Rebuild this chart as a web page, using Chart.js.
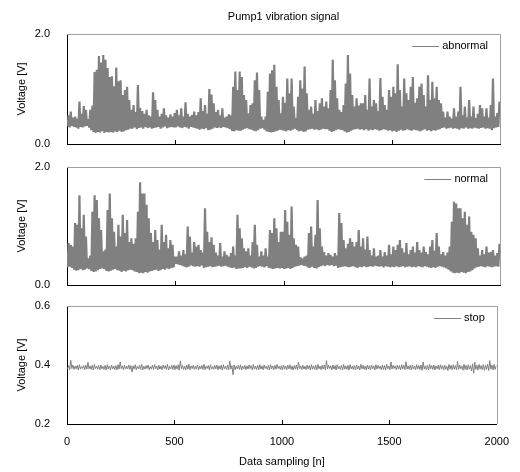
<!DOCTYPE html>
<html>
<head>
<meta charset="utf-8">
<script src="https://cdn.jsdelivr.net/npm/chart.js@4.4.1/dist/chart.umd.min.js"></script>
<style>
  html, body { margin: 0; padding: 0; background: #fff; }
  #wrap { position: relative; width: 520px; height: 472px; }
  #wrap canvas { position: absolute; left: 0; }
</style>
</head>
<body>
<div id="wrap">
  <canvas id="c1" width="520" height="160" style="top:0"></canvas>
  <canvas id="c2" width="520" height="150" style="top:150px"></canvas>
  <canvas id="c3" width="520" height="182" style="top:290px"></canvas>
</div>
<script>
// x axis: sample index 0..2000, y: voltage
const xTicks = [0, 500, 1000, 1500, 2000];

// peak / trough of each 10-sample bin
const abnormalHigh = [
  0.52, 0.59, 0.48, 0.50, 0.46, 0.77, 0.55, 0.69, 0.62, 0.45,
  0.62, 0.70, 1.31, 1.35, 1.60, 1.48, 1.62, 1.53, 1.38, 1.22,
  1.23, 1.05, 1.39, 1.14, 1.16, 0.89, 0.98, 1.04, 0.80, 0.62,
  0.71, 0.58, 1.07, 0.66, 0.60, 0.55, 0.62, 0.52, 0.50, 0.94,
  0.80, 0.62, 0.50, 0.55, 0.65, 0.52, 0.48, 0.54, 0.50, 0.56,
  0.62, 0.52, 0.65, 0.50, 0.76, 0.55, 0.50, 0.53, 0.59, 0.52,
  0.58, 0.83, 0.60, 0.71, 0.55, 1.00, 0.90, 0.74, 0.58, 0.62,
  0.52, 0.65, 0.48, 0.50, 0.54, 0.52, 1.04, 1.32, 0.98, 1.32,
  1.22, 0.89, 0.80, 0.56, 0.71, 0.74, 1.16, 1.30, 0.98, 0.50,
  0.44, 0.50, 0.95, 1.28, 1.34, 1.44, 1.04, 0.80, 0.56, 0.86,
  0.75, 1.19, 0.92, 1.19, 0.68, 0.47, 0.86, 1.16, 1.01, 1.41,
  0.92, 0.62, 0.68, 0.55, 0.80, 0.60, 0.74, 0.83, 0.68, 0.77,
  0.65, 0.98, 1.53, 1.16, 0.83, 0.62, 0.58, 0.71, 1.10, 1.62,
  1.28, 0.89, 0.68, 0.83, 0.70, 0.74, 0.74, 0.89, 0.62, 1.19,
  0.68, 0.80, 0.74, 0.60, 1.20, 0.86, 0.71, 0.62, 0.98, 0.86,
  1.04, 0.92, 1.45, 0.98, 0.68, 1.19, 0.92, 0.80, 1.04, 1.22,
  0.75, 0.83, 1.04, 1.10, 0.89, 0.68, 1.25, 0.80, 1.13, 0.83,
  1.04, 0.80, 0.74, 0.59, 0.48, 0.59, 0.50, 0.46, 0.65, 0.50,
  0.59, 1.04, 0.52, 0.68, 0.48, 0.80, 0.50, 0.68, 0.47, 0.55,
  0.71, 0.65, 0.50, 0.65, 0.48, 0.71, 1.19, 0.50, 0.56, 0.77
];
const abnormalLow = [
  0.32, 0.30, 0.33, 0.31, 0.30, 0.28, 0.31, 0.30, 0.32, 0.33,
  0.30, 0.25, 0.22, 0.20, 0.22, 0.21, 0.23, 0.20, 0.22, 0.21,
  0.22, 0.21, 0.23, 0.22, 0.24, 0.22, 0.23, 0.25, 0.26, 0.28,
  0.28, 0.30, 0.27, 0.29, 0.30, 0.28, 0.31, 0.29, 0.30, 0.28,
  0.29, 0.30, 0.31, 0.28, 0.30, 0.32, 0.29, 0.30, 0.31, 0.30,
  0.30, 0.32, 0.30, 0.29, 0.31, 0.30, 0.28, 0.31, 0.30, 0.29,
  0.28, 0.26, 0.28, 0.27, 0.29, 0.25, 0.26, 0.28, 0.30, 0.29,
  0.30, 0.29, 0.31, 0.30, 0.29, 0.27, 0.24, 0.23, 0.25, 0.24,
  0.24, 0.26, 0.28, 0.29, 0.27, 0.26, 0.24, 0.23, 0.25, 0.28,
  0.29, 0.26, 0.23, 0.22, 0.21, 0.22, 0.23, 0.24, 0.26, 0.25,
  0.24, 0.23, 0.25, 0.24, 0.26, 0.28, 0.25, 0.23, 0.24, 0.22,
  0.23, 0.26, 0.27, 0.28, 0.26, 0.27, 0.25, 0.26, 0.28, 0.27,
  0.27, 0.24, 0.22, 0.23, 0.25, 0.27, 0.26, 0.25, 0.23, 0.21,
  0.22, 0.24, 0.26, 0.27, 0.28, 0.26, 0.27, 0.25, 0.27, 0.24,
  0.26, 0.25, 0.27, 0.26, 0.24, 0.25, 0.27, 0.26, 0.24, 0.25,
  0.23, 0.24, 0.22, 0.24, 0.26, 0.24, 0.25, 0.27, 0.25, 0.24,
  0.26, 0.25, 0.24, 0.23, 0.25, 0.27, 0.24, 0.25, 0.23, 0.25,
  0.24, 0.26, 0.27, 0.29, 0.30, 0.28, 0.29, 0.30, 0.28, 0.29,
  0.28, 0.26, 0.29, 0.28, 0.30, 0.28, 0.29, 0.28, 0.30, 0.29,
  0.28, 0.29, 0.30, 0.28, 0.29, 0.28, 0.25, 0.29, 0.30, 0.31
];

const normalHigh = [
  0.71, 0.68, 0.65, 1.05, 1.02, 1.52, 0.96, 1.19, 0.82, 0.45,
  0.50, 1.24, 1.52, 1.44, 1.13, 0.93, 0.57, 0.60, 1.27, 1.55,
  1.13, 0.90, 0.65, 1.02, 0.82, 1.19, 0.88, 1.10, 0.73, 0.79,
  0.70, 0.79, 1.24, 1.74, 1.55, 1.55, 1.36, 1.13, 0.88, 0.73,
  0.93, 0.76, 0.60, 1.02, 0.73, 0.85, 0.62, 0.76, 0.68, 0.48,
  0.48, 0.57, 0.50, 0.59, 0.52, 0.99, 0.82, 0.55, 0.73, 0.65,
  0.68, 0.59, 0.55, 1.30, 0.90, 0.73, 0.81, 0.68, 0.55, 0.50,
  0.71, 0.48, 0.57, 0.51, 0.48, 0.54, 0.65, 0.50, 1.19, 0.96,
  0.79, 0.62, 0.57, 0.62, 0.50, 0.73, 1.02, 0.68, 0.48, 0.57,
  0.50, 0.62, 0.48, 0.93, 0.88, 1.13, 0.96, 0.73, 0.90, 0.90,
  1.27, 1.07, 0.85, 1.33, 0.79, 0.68, 0.65, 0.47, 0.45, 0.48,
  0.50, 0.88, 0.99, 0.65, 0.85, 1.44, 0.96, 0.65, 0.56, 0.50,
  0.54, 0.51, 0.48, 0.54, 0.50, 1.22, 1.05, 0.76, 0.62, 0.70,
  0.79, 0.73, 0.65, 0.73, 0.93, 0.65, 0.79, 0.60, 0.82, 0.59,
  0.50, 0.62, 0.48, 0.50, 0.59, 0.48, 0.56, 0.50, 0.68, 0.52,
  0.65, 0.59, 0.68, 0.76, 0.62, 0.55, 0.71, 0.52, 0.59, 0.65,
  0.55, 0.73, 0.59, 0.55, 0.65, 0.56, 0.52, 0.65, 0.76, 0.58,
  0.88, 0.65, 0.52, 0.56, 0.50, 0.55, 0.65, 1.07, 1.41, 1.38,
  1.30, 1.30, 1.13, 1.24, 1.02, 1.16, 0.90, 0.85, 0.79, 0.62,
  0.50, 0.59, 0.52, 0.65, 0.55, 0.56, 0.59, 0.50, 0.54, 0.70
];
const normalLow = [
  0.30, 0.31, 0.29, 0.26, 0.24, 0.25, 0.27, 0.25, 0.26, 0.28,
  0.27, 0.24, 0.22, 0.23, 0.25, 0.27, 0.28, 0.27, 0.24, 0.23,
  0.24, 0.26, 0.27, 0.25, 0.24, 0.22, 0.24, 0.23, 0.25, 0.26,
  0.25, 0.23, 0.22, 0.20, 0.21, 0.20, 0.22, 0.21, 0.23, 0.24,
  0.25, 0.26, 0.24, 0.25, 0.27, 0.26, 0.28, 0.27, 0.29, 0.30,
  0.36, 0.35, 0.34, 0.33, 0.31, 0.30, 0.31, 0.33, 0.32, 0.31,
  0.32, 0.31, 0.33, 0.29, 0.30, 0.31, 0.32, 0.30, 0.31, 0.32,
  0.33, 0.31, 0.32, 0.33, 0.31, 0.30, 0.29, 0.30, 0.27, 0.28,
  0.28, 0.29, 0.30, 0.29, 0.31, 0.30, 0.28, 0.29, 0.31, 0.32,
  0.31, 0.30, 0.32, 0.29, 0.28, 0.27, 0.28, 0.29, 0.28, 0.29,
  0.27, 0.28, 0.29, 0.27, 0.29, 0.31, 0.32, 0.33, 0.34, 0.33,
  0.32, 0.30, 0.29, 0.31, 0.29, 0.28, 0.30, 0.32, 0.33, 0.32,
  0.34, 0.33, 0.34, 0.32, 0.33, 0.29, 0.30, 0.31, 0.32, 0.31,
  0.30, 0.31, 0.32, 0.30, 0.29, 0.31, 0.30, 0.32, 0.30, 0.31,
  0.32, 0.31, 0.33, 0.32, 0.31, 0.32, 0.30, 0.32, 0.31, 0.30,
  0.31, 0.30, 0.32, 0.30, 0.31, 0.32, 0.30, 0.31, 0.32, 0.30,
  0.31, 0.30, 0.32, 0.31, 0.30, 0.32, 0.31, 0.30, 0.29, 0.30,
  0.29, 0.31, 0.32, 0.31, 0.30, 0.28, 0.26, 0.23, 0.21, 0.20,
  0.21, 0.20, 0.22, 0.21, 0.20, 0.22, 0.23, 0.25, 0.28, 0.30,
  0.31, 0.32, 0.31, 0.30, 0.32, 0.31, 0.30, 0.31, 0.32, 0.31
];

const stopHigh = [
  0.398, 0.416, 0.400, 0.396, 0.399, 0.401, 0.395, 0.398, 0.400, 0.409,
  0.397, 0.399, 0.402, 0.396, 0.398, 0.400, 0.395, 0.399, 0.401, 0.397,
  0.400, 0.396, 0.398, 0.401, 0.410, 0.397, 0.399, 0.396, 0.400, 0.398,
  0.397, 0.401, 0.395, 0.399, 0.402, 0.396, 0.398, 0.400, 0.395, 0.399,
  0.401, 0.397, 0.399, 0.396, 0.400, 0.398, 0.402, 0.395, 0.399, 0.400,
  0.398, 0.401, 0.414, 0.399, 0.396, 0.400, 0.403, 0.397, 0.399, 0.396,
  0.400, 0.397, 0.399, 0.402, 0.396, 0.398, 0.401, 0.395, 0.399, 0.400,
  0.397, 0.399, 0.401, 0.396, 0.400, 0.414, 0.398, 0.400, 0.396, 0.399,
  0.401, 0.396, 0.399, 0.397, 0.400, 0.398, 0.402, 0.396, 0.399, 0.401,
  0.397, 0.400, 0.396, 0.399, 0.401, 0.397, 0.399, 0.402, 0.396, 0.398,
  0.400, 0.397, 0.399, 0.401, 0.396, 0.398, 0.400, 0.410, 0.397, 0.399,
  0.396, 0.400, 0.398, 0.401, 0.397, 0.399, 0.402, 0.396, 0.399, 0.400,
  0.415, 0.399, 0.397, 0.400, 0.398, 0.401, 0.396, 0.399, 0.402, 0.397,
  0.399, 0.401, 0.396, 0.398, 0.400, 0.397, 0.402, 0.399, 0.396, 0.400,
  0.398, 0.400, 0.397, 0.401, 0.399, 0.396, 0.400, 0.398, 0.402, 0.397,
  0.410, 0.399, 0.397, 0.400, 0.398, 0.401, 0.399, 0.411, 0.397, 0.400,
  0.399, 0.397, 0.401, 0.398, 0.400, 0.410, 0.397, 0.399, 0.402, 0.398,
  0.400, 0.397, 0.399, 0.401, 0.398, 0.400, 0.396, 0.402, 0.399, 0.401,
  0.398, 0.412, 0.400, 0.397, 0.403, 0.399, 0.401, 0.398, 0.404, 0.410,
  0.399, 0.402, 0.398, 0.401, 0.399, 0.403, 0.415, 0.400, 0.402, 0.398
];
const stopLow = [
  0.386, 0.384, 0.388, 0.385, 0.387, 0.383, 0.386, 0.388, 0.384, 0.386,
  0.387, 0.385, 0.383, 0.388, 0.386, 0.384, 0.387, 0.385, 0.383, 0.386,
  0.384, 0.387, 0.385, 0.383, 0.386, 0.388, 0.384, 0.386, 0.387, 0.385,
  0.376, 0.386, 0.384, 0.387, 0.385, 0.383, 0.386, 0.388, 0.384, 0.386,
  0.385, 0.387, 0.383, 0.386, 0.384, 0.388, 0.385, 0.383, 0.387, 0.385,
  0.384, 0.386, 0.382, 0.387, 0.385, 0.383, 0.386, 0.384, 0.388, 0.385,
  0.386, 0.383, 0.387, 0.385, 0.384, 0.388, 0.383, 0.386, 0.385, 0.387,
  0.384, 0.386, 0.383, 0.387, 0.385, 0.383, 0.386, 0.367, 0.384, 0.387,
  0.385, 0.383, 0.387, 0.384, 0.386, 0.388, 0.383, 0.386, 0.385, 0.384,
  0.386, 0.384, 0.388, 0.385, 0.383, 0.387, 0.384, 0.386, 0.388, 0.385,
  0.383, 0.386, 0.384, 0.387, 0.385, 0.383, 0.386, 0.384, 0.387, 0.385,
  0.386, 0.384, 0.387, 0.383, 0.386, 0.385, 0.383, 0.387, 0.384, 0.386,
  0.384, 0.386, 0.388, 0.384, 0.386, 0.383, 0.387, 0.385, 0.383, 0.386,
  0.385, 0.383, 0.387, 0.385, 0.384, 0.386, 0.383, 0.387, 0.385, 0.384,
  0.386, 0.384, 0.387, 0.383, 0.386, 0.388, 0.384, 0.385, 0.383, 0.387,
  0.384, 0.386, 0.388, 0.384, 0.386, 0.383, 0.387, 0.384, 0.386, 0.385,
  0.383, 0.386, 0.384, 0.387, 0.385, 0.382, 0.386, 0.384, 0.383, 0.387,
  0.385, 0.383, 0.387, 0.384, 0.386, 0.383, 0.385, 0.381, 0.386, 0.384,
  0.386, 0.383, 0.385, 0.387, 0.382, 0.385, 0.383, 0.386, 0.380, 0.372,
  0.385, 0.383, 0.386, 0.384, 0.382, 0.385, 0.381, 0.386, 0.383, 0.385
];

const FONT = "'Liberation Sans', Arial, sans-serif";
const LINE_COLOR = "#808080";
Chart.defaults.font.family = FONT;
Chart.defaults.font.size = 11;
Chart.defaults.color = "#000";

// trough then peak of each bin -> the oscillating trace
function zigzag(high, low) {
    const w = 2000 / high.length;
    const pts = [];
    high.forEach((h, i) => {
        pts.push({ x: i * w + w * 0.25, y: low[i] });
        pts.push({ x: i * w + w * 0.75, y: h });
    });
    return pts;
}

// grey top/right frame, inward x ticks, legend in the top right corner
const framePlugin = {
    id: "frame",
    afterDraw(chart) {
        const { ctx, chartArea: a, scales } = chart;
        ctx.save();
        ctx.lineWidth = 1;
        ctx.strokeStyle = "#a0a0a0";
        ctx.beginPath();
        ctx.moveTo(a.left, Math.round(a.top) + 0.5);
        ctx.lineTo(Math.round(a.right) + 0.5, Math.round(a.top) + 0.5);
        ctx.lineTo(Math.round(a.right) + 0.5, a.bottom);
        ctx.stroke();

        ctx.strokeStyle = "#000";
        ctx.beginPath();
        xTicks.slice(1, -1).forEach(v => {
            const px = Math.round(scales.x.getPixelForValue(v)) + 0.5;
            ctx.moveTo(px, a.bottom);
            ctx.lineTo(px, a.bottom - 4);
        });
        ctx.stroke();

        const ds = chart.data.datasets[0];
        ctx.font = "11px " + FONT;
        const tw = ctx.measureText(ds.label).width;
        const tx = a.right - 12 - tw;
        const ty = a.top + 12;
        ctx.lineWidth = 1;
        ctx.strokeStyle = ds.borderColor;
        ctx.beginPath();
        ctx.moveTo(tx - 30, Math.round(ty) + 0.5);
        ctx.lineTo(tx - 3, Math.round(ty) + 0.5);
        ctx.stroke();
        ctx.fillStyle = "#000";
        ctx.textBaseline = "middle";
        ctx.fillText(ds.label, tx, ty);
        ctx.restore();
    }
};

function makePanel(id, cfg) {
    const ctx = document.getElementById(id).getContext("2d");
    return new Chart(ctx, {
        type: "line",
        data: {
            datasets: [{
                label: cfg.label,
                data: zigzag(cfg.high, cfg.low),
                borderColor: LINE_COLOR,
                borderWidth: cfg.lineWidth,
                borderJoinStyle: "bevel",
                pointRadius: 0,
                tension: 0,
                fill: false
            }]
        },
        options: {
            responsive: false,
            animation: false,
            events: [],
            layout: { padding: { left: 0, right: 20, top: cfg.padTop, bottom: 0 } },
            plugins: {
                legend: { display: false },
                tooltip: { enabled: false },
                title: cfg.title ? {
                    display: true,
                    text: cfg.title,
                    fullSize: false,
                    color: "#000",
                    font: { size: 11, weight: "normal" },
                    padding: { top: 10, bottom: 10.8 }
                } : { display: false }
            },
            scales: {
                x: {
                    type: "linear",
                    min: 0,
                    max: 2000,
                    ticks: {
                        display: cfg.xLabels,
                        stepSize: 500,
                        padding: 11,
                        maxRotation: 0,
                        callback: v => String(v)
                    },
                    grid: { drawOnChartArea: false, drawTicks: false },
                    border: { color: "#000" },
                    title: {
                        display: cfg.xLabels,
                        text: "Data sampling [n]",
                        padding: { top: 4, bottom: 3.4 }
                    },
                    afterFit: s => { s.height = cfg.xHeight; }
                },
                y: {
                    min: cfg.yMin,
                    max: cfg.yMax,
                    ticks: { stepSize: cfg.yStep, padding: 3, callback: v => v.toFixed(1) },
                    grid: {
                        drawOnChartArea: false,
                        drawTicks: true,
                        tickLength: 14,
                        tickColor: "rgba(0,0,0,0)"
                    },
                    border: { color: "#000" },
                    title: { display: true, text: "Voltage [V]", padding: { top: 15, bottom: 0 } },
                    afterFit: s => { s.width = 67; }
                }
            }
        },
        plugins: [framePlugin]
    });
}

makePanel("c1", {
    label: "abnormal", high: abnormalHigh, low: abnormalLow, lineWidth: 2.2,
    title: "Pump1 vibration signal", padTop: 0, xHeight: 16, xLabels: false,
    yMin: 0, yMax: 2, yStep: 2
});
makePanel("c2", {
    label: "normal", high: normalHigh, low: normalLow, lineWidth: 2.2,
    padTop: 17, xHeight: 15, xLabels: false,
    yMin: 0, yMax: 2, yStep: 2
});
makePanel("c3", {
    label: "stop", high: stopHigh, low: stopLow, lineWidth: 1,
    padTop: 16, xHeight: 48, xLabels: true,
    yMin: 0.2, yMax: 0.6, yStep: 0.2
});
</script>
</body>
</html>
